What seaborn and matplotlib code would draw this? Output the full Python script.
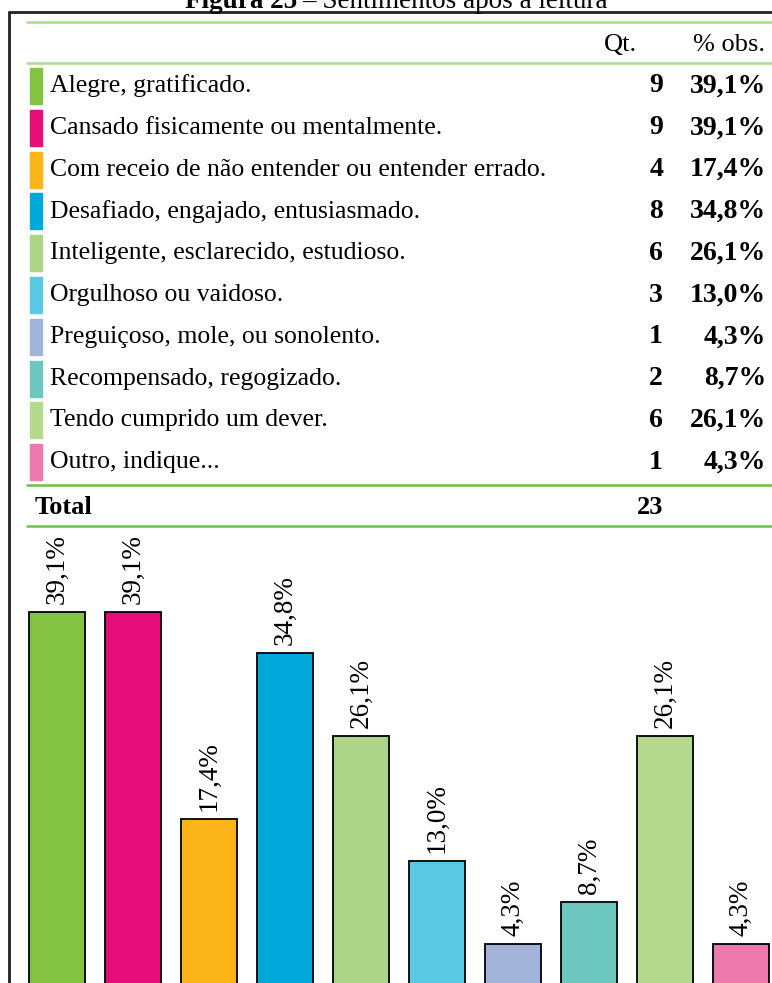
import matplotlib
matplotlib.use("Agg")
import matplotlib.pyplot as plt
import seaborn as sns
from matplotlib.patches import Rectangle
from matplotlib.lines import Line2D

# dados da figura
categorias = [
    "Alegre, gratificado.",
    "Cansado fisicamente ou mentalmente.",
    "Com receio de não entender ou entender errado.",
    "Desafiado, engajado, entusiasmado.",
    "Inteligente, esclarecido, estudioso.",
    "Orgulhoso ou vaidoso.",
    "Preguiçoso, mole, ou sonolento.",
    "Recompensado, regogizado.",
    "Tendo cumprido um dever.",
    "Outro, indique...",
]
quantidades = [9, 9, 4, 8, 6, 3, 1, 2, 6, 1]
percentuais = [39.1, 39.1, 17.4, 34.8, 26.1, 13.0, 4.3, 8.7, 26.1, 4.3]
total = 23
cores = ["#84C341", "#E60D78", "#FBB519", "#00A9DA", "#ACD58A",
         "#5BC9E4", "#A3B4DA", "#6CC7BE", "#B5D98F", "#EC7AAC"]

W, H = 772, 983
sns.set_style("white")
plt.rcParams['font.family'] = ['Liberation Serif', 'DejaVu Serif']
plt.rcParams['text.color'] = 'black'

fig = plt.figure(figsize=(W / 100, H / 100), dpi=100)


def fx(px):
    return px / W


def fy(py):
    return 1 - py / H


def pct(v):
    return f"{v:.1f}%".replace(".", ",")


# moldura
fig.add_artist(Line2D([fx(9), fx(9)], [fy(12), fy(990)], color="#222222", lw=2))
fig.add_artist(Line2D([fx(9), fx(780)], [fy(12), fy(12)], color="#222222", lw=2))

# titulo (cortado no topo, como no original)
fig.text(fx(297), fy(2), "Figura 25", ha="right", va="center", fontsize=19.5, fontweight="bold")
fig.text(fx(302), fy(2), "– Sentimentos após a leitura", ha="left", va="center", fontsize=19.5)

# tabela
for y, c in [(22, "#A9DC92"), (63, "#A9DC92"), (485, "#6CC04A"), (526, "#6CC04A")]:
    fig.add_artist(Line2D([fx(27), fx(775)], [fy(y), fy(y)], color=c, lw=1.8))

fig.text(fx(637), fy(45), "Qt.", ha="right", va="center", fontsize=19)
fig.text(fx(765), fy(45), "% obs.", ha="right", va="center", fontsize=19)

for i, (cat, q, p, c) in enumerate(zip(categorias, quantidades, percentuais, cores)):
    yc = 86 + i * 41.8
    fig.add_artist(Rectangle((fx(30), fy(yc + 18)), fx(12), 36 / H, color=c))
    fig.text(fx(50), fy(yc), cat, ha="left", va="center", fontsize=18.5)
    fig.text(fx(663), fy(yc), str(q), ha="right", va="center", fontsize=20, fontweight="bold")
    fig.text(fx(766), fy(yc), pct(p), ha="right", va="center", fontsize=20, fontweight="bold")

fig.text(fx(35), fy(507), "Total", ha="left", va="center", fontsize=19, fontweight="bold")
fig.text(fx(663), fy(507), str(total), ha="right", va="center", fontsize=19, fontweight="bold")

# grafico de barras
ax = fig.add_axes([fx(9), 0, fx(772) - fx(9), fy(530)])
sns.barplot(x=categorias, y=percentuais, hue=categorias, palette=cores, legend=False,
            width=0.737, edgecolor="black", linewidth=1.3, saturation=1, ax=ax)
ax.set_xlim(-0.632, 9.408)
ax.set_ylim(0.21, 47.7)
for cont in ax.containers:
    ax.bar_label(cont, labels=[pct(v) for v in cont.datavalues],
                 rotation=90, padding=6, fontsize=19.5)
ax.axis("off")

fig.savefig("out.png", dpi=100)
